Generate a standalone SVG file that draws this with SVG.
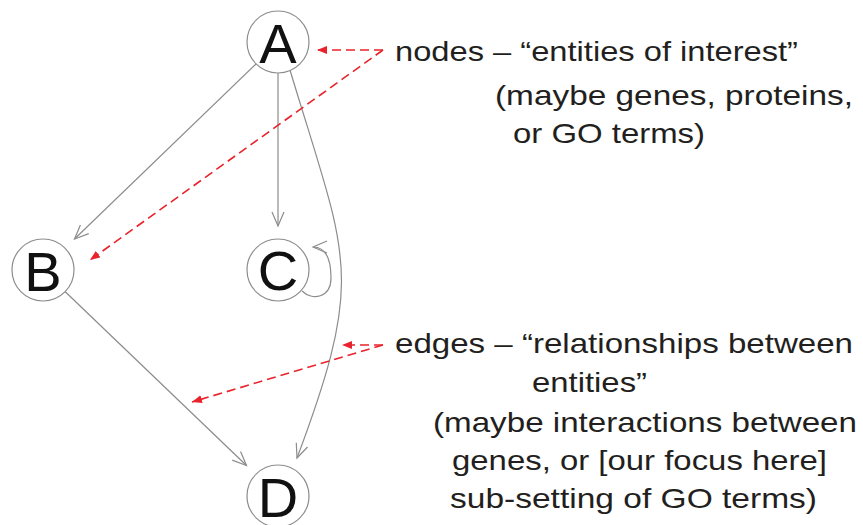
<svg xmlns="http://www.w3.org/2000/svg" width="863" height="525" viewBox="0 0 863 525">
  <defs>
    <style>
      .node circle { fill: #ffffff; stroke: #8c8c8c; stroke-width: 1.2; }
      .node text { font-family: "Liberation Sans", Arial, sans-serif; font-size: 56px; fill: #111111; text-anchor: middle; }
      .edge { fill: none; stroke: #8c8c8c; stroke-width: 1.2; marker-end: url(#garr); }
      .pointer { fill: none; stroke: #e8232b; stroke-width: 1.6; stroke-dasharray: 9 5; }
      .pointer.head { marker-end: url(#rarr); }
      .label { font-family: "Liberation Sans", Arial, sans-serif; font-size: 28px; fill: #231f20; }
    </style>
    <marker id="garr" markerWidth="18" markerHeight="16" refX="15" refY="7" orient="auto" markerUnits="userSpaceOnUse">
      <path d="M1,1 L15,7 L1,13" fill="none" stroke="#8c8c8c" stroke-width="1.2"/>
    </marker>
    <marker id="rarr" markerWidth="12" markerHeight="10" refX="10" refY="4" orient="auto" markerUnits="userSpaceOnUse">
      <path d="M0,0 L10,4 L0,8 Z" fill="#e8232b"/>
    </marker>
  </defs>
  <rect width="863" height="525" fill="#ffffff"/>

  <g id="edges">
    <path class="edge" d="M256,64 L74.5,239"/>
    <path class="edge" d="M278,73 L278,226"/>
    <path class="edge" d="M290,70 C346.7,259 366.8,271.8 297,458"/>
    <path class="edge" d="M65,291.5 L246.5,465.5"/>
    <path class="edge" d="M302,291 C312,301 331,298 331,278 C331,258 325,247 313,247"/>
  </g>

  <g id="node-A" class="node">
    <circle cx="278" cy="42" r="31"/>
    <text x="278" y="63">A</text>
  </g>
  <g id="node-B" class="node">
    <circle cx="43" cy="270" r="31"/>
    <text x="43" y="291">B</text>
  </g>
  <g id="node-C" class="node">
    <circle cx="278" cy="270" r="31"/>
    <text x="278" y="290">C</text>
  </g>
  <g id="node-D" class="node">
    <circle cx="278" cy="496" r="31"/>
    <text x="278" y="517">D</text>
  </g>

  <g id="pointers">
    <path class="pointer head" d="M383,50 L317,50"/>
    <path class="pointer head" d="M383,50 L90,260"/>
    <path class="pointer head" d="M383,345 L342,345"/>
    <path class="pointer head" d="M383,345 L192,402"/>
  </g>

  <g id="notes">
    <text class="label" x="395" y="61" textLength="403" lengthAdjust="spacingAndGlyphs">nodes – “entities of interest”</text>
    <text class="label" x="495" y="105" textLength="358" lengthAdjust="spacingAndGlyphs">(maybe genes, proteins,</text>
    <text class="label" x="513" y="143" textLength="192" lengthAdjust="spacingAndGlyphs">or GO terms)</text>
    <text class="label" x="395" y="353" textLength="458" lengthAdjust="spacingAndGlyphs">edges – “relationships between</text>
    <text class="label" x="532" y="392" textLength="115" lengthAdjust="spacingAndGlyphs">entities”</text>
    <text class="label" x="433" y="432" textLength="424" lengthAdjust="spacingAndGlyphs">(maybe interactions between</text>
    <text class="label" x="452" y="470" textLength="375" lengthAdjust="spacingAndGlyphs">genes, or [our focus here]</text>
    <text class="label" x="450" y="508" textLength="367" lengthAdjust="spacingAndGlyphs">sub-setting of GO terms)</text>
  </g>
</svg>
